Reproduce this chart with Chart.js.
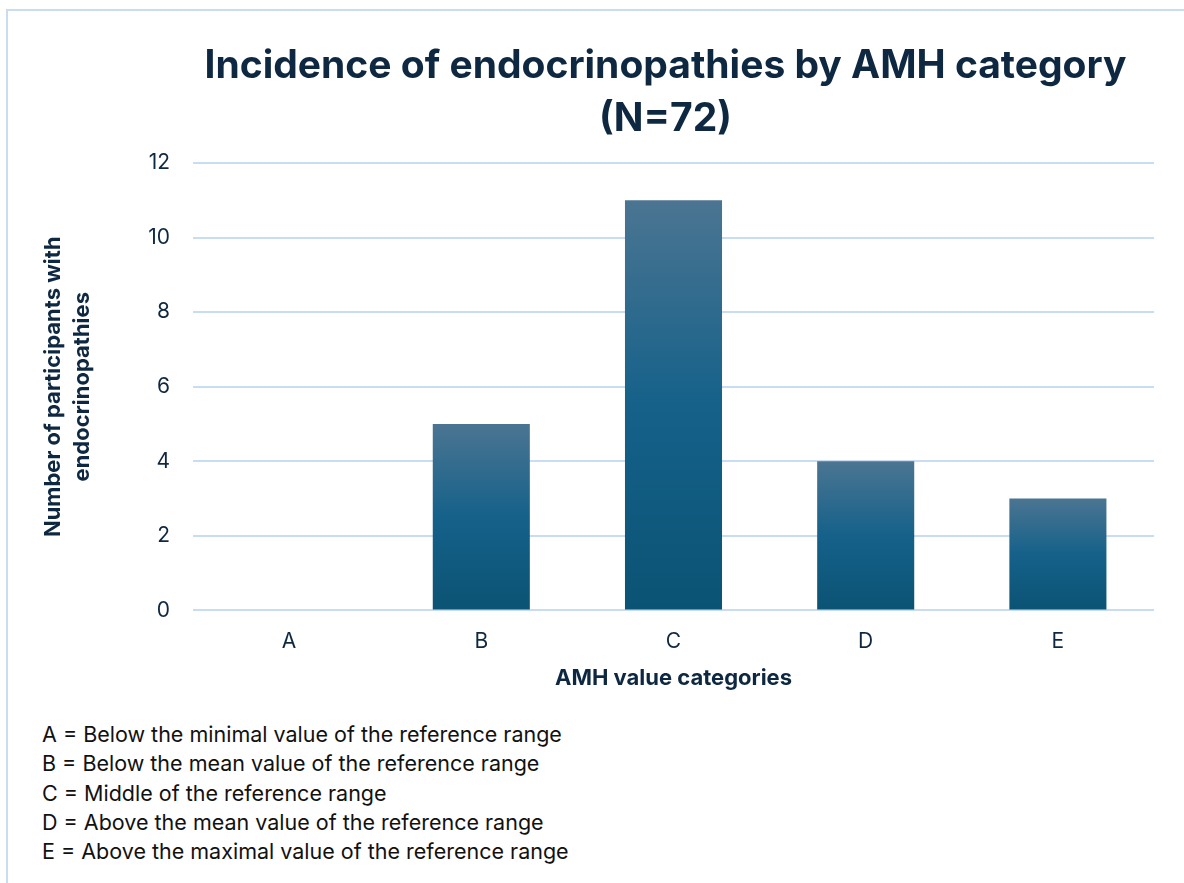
<!DOCTYPE html>
<html>
<head>
<meta charset="utf-8">
<script src="https://cdn.jsdelivr.net/npm/chart.js@4/dist/chart.umd.min.js"></script>
<style>
  html, body { margin: 0; padding: 0; background: #fff; }
  body { width: 1184px; height: 883px; position: relative; overflow: hidden; }
  #frame {
    position: absolute; left: 6px; top: 9px; right: -10px; bottom: -10px;
    border-left: 2px solid #c8dcf2; border-top: 2px solid #c8dcf2;
  }
  #wrap { position: absolute; left: 0; top: 0; width: 1184px; height: 700px; }
  #notes {
    position: absolute; left: 42px; top: 720px;
    font-family: Inter, "Noto Sans", sans-serif; font-size: 21.5px;
    line-height: 29.3px; color: #111;
  }
</style>
</head>
<body>
<div id="frame"></div>
<div id="wrap"><canvas id="chart"></canvas></div>
<div id="notes"></div>
<script>
// chart data
const categories = ["A", "B", "C", "D", "E"];
const counts = [0, 5, 11, 4, 3];
const yTicks = [0, 2, 4, 6, 8, 10, 12];
const noteLines = [
    "A = Below the minimal value of the reference range",
    "B = Below the mean value of the reference range",
    "C = Middle of the reference range",
    "D = Above the mean value of the reference range",
    "E = Above the maximal value of the reference range"
];

const navy = "#0e2841";
const gridBlue = "#c8dcf2";

document.getElementById("notes").innerHTML = noteLines.map(t => `<div>${t}</div>`).join("");

// vertical gradient per bar, worked out from the y scale
function barGradient(c) {
    const accent = "#156082";
    if (c.type !== "data") return accent;
    const y = c.chart.scales.y;
    if (!y) return accent;
    const top = y.getPixelForValue(c.raw);
    const bottom = y.getPixelForValue(0);
    if (!isFinite(top) || !isFinite(bottom) || bottom - top < 1) return accent;
    const g = c.chart.ctx.createLinearGradient(0, top, 0, bottom);
    g.addColorStop(0, "#4b7592");
    g.addColorStop(0.5, "#15618a");
    g.addColorStop(1, "#0b5374");
    return g;
}

// nudge the title a little left, as in the original
const titleShift = {
    id: "titleShift",
    afterLayout(chart) {
        if (chart.titleBlock) chart.titleBlock.left -= 16;
    }
};

const ctx = document.getElementById("chart").getContext("2d");
new Chart(ctx, {
    type: "bar",
    data: {
        labels: categories,
        datasets: [{
            data: counts,
            backgroundColor: barGradient,
            borderWidth: 0,
            categoryPercentage: 1,
            barPercentage: 0.505
        }]
    },
    options: {
        responsive: true,
        maintainAspectRatio: false,
        animation: false,
        layout: { padding: { left: 10, right: 30, top: 0, bottom: 8 } },
        plugins: {
            legend: { display: false },
            tooltip: { enabled: false },
            title: {
                display: true,
                fullSize: false,
                text: ["Incidence of endocrinopathies by AMH category", "(N=72)"],
                color: navy,
                font: { family: "Inter", size: 39, weight: "bold", lineHeight: 1.36 },
                padding: { top: 40, bottom: 17 }
            }
        },
        scales: {
            x: {
                grid: { display: false },
                border: { display: false },
                ticks: { color: navy, padding: 11, font: { family: "Inter", size: 21 } },
                title: {
                    display: true,
                    text: "AMH value categories",
                    color: navy,
                    font: { family: "Inter", size: 22, weight: "bold" },
                    padding: { top: 0, bottom: 0 }
                }
            },
            y: {
                min: 0,
                max: 12,
                afterBuildTicks: (scale) => { scale.ticks = yTicks.map(v => ({ value: v })); },
                afterFit: (scale) => { scale.width = 183; },
                grid: { color: gridBlue, lineWidth: 2, drawTicks: false },
                border: { display: false },
                ticks: { color: navy, padding: 23, font: { family: "Inter", size: 21 } },
                title: {
                    display: true,
                    text: ["Number of participants with", "endocrinopathies"],
                    color: navy,
                    font: { family: "Inter", size: 22, weight: "bold", lineHeight: 1.3 },
                    padding: { top: 29, bottom: 0 }
                }
            }
        }
    },
    plugins: [titleShift]
});
</script>
</body>
</html>
